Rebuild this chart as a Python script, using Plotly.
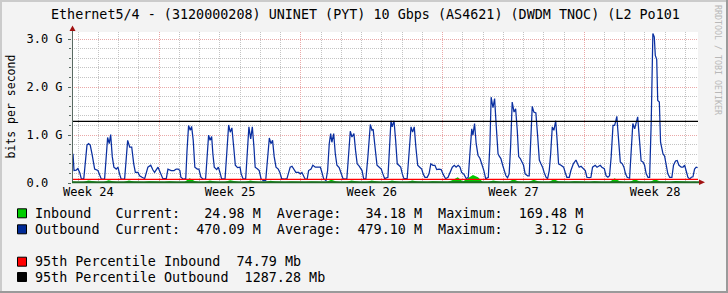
import numpy as np
import plotly.graph_objects as go

# ---------------- data ----------------
TITLE = "Ethernet5/4 - (3120000208) UNINET (PYT) 10 Gbps (AS4621) (DWDM TNOC) (L2 Po101"
Y_LABEL = "bits per second"

week_mid = [3.5, 10.5, 17.5, 24.5, 31.5]          # days
week_labels = ["Week 24", "Week 25", "Week 26", "Week 27", "Week 28"]
x_start, x_end = 2.69, 33.62                      # days shown
y_max = 3.15                                      # Gbit/s

y_tickvals = [0, 1, 2, 3]
y_ticktext = ["0.0\u00a0\u00a0", "1.0 G", "2.0 G", "3.0 G"]

# outbound (Gbit/s) at time (days)
out_t = [2.74, 2.79, 2.90, 2.98, 3.07, 3.15, 3.27, 3.34, 3.43, 3.51, 3.59, 3.68, 3.76, 3.81, 3.97, 4.06,
         4.14, 4.30, 4.37, 4.45, 4.53, 4.60, 4.68, 4.76, 4.88, 4.96, 5.04, 5.12, 5.29, 5.36, 5.44, 5.54,
         5.64, 5.74, 5.82, 5.95, 6.03, 6.15, 6.28, 6.44, 6.58, 6.69, 6.77, 6.94, 7.07, 7.18, 7.35, 7.43,
         7.59, 7.73, 7.84,
         7.94, 8.02, 8.07, 8.19, 8.31, 8.37, 8.45, 8.53, 8.60, 8.68, 8.76, 8.88, 8.96, 9.06, 9.17, 9.29,
         9.36, 9.44, 9.51, 9.59, 9.65, 9.72, 9.84, 9.92, 10.00, 10.08, 10.25, 10.33, 10.43, 10.51, 10.59,
         10.68, 10.76, 10.87, 10.99, 11.05, 11.14, 11.27, 11.35, 11.43, 11.52, 11.60, 11.68, 11.74, 11.86,
         11.94, 12.03, 12.14, 12.26, 12.34, 12.44, 12.52, 12.60, 12.68, 12.77, 12.88, 12.96, 13.05, 13.18,
         13.31, 13.39, 13.47, 13.56, 13.66, 13.75, 13.89, 13.97, 14.05, 14.14, 14.21, 14.31, 14.38, 14.50,
         14.59, 14.71, 14.84, 14.96, 15.04, 15.12, 15.24, 15.32, 15.40, 15.47, 15.53, 15.62, 15.70, 15.78,
         15.89, 15.99, 16.08, 16.19, 16.27, 16.36, 16.44, 16.52, 16.62, 16.70, 16.78, 16.88, 17.02, 17.10,
         17.21, 17.31, 17.38, 17.43, 17.51, 17.57, 17.67, 17.76, 17.87, 17.97, 18.05, 18.14, 18.30, 18.38,
         18.45,
         18.51, 18.60, 18.68, 18.76, 18.84, 18.93, 19.01, 19.09, 19.25, 19.34, 19.44, 19.52, 19.60, 19.68,
         19.77, 19.87, 19.97, 20.04, 20.13, 20.24, 20.33, 20.42, 20.52, 20.62, 20.71, 20.82, 20.93, 21.03,
         21.15, 21.27, 21.36, 21.48, 21.58, 21.67, 21.77, 21.86, 21.94, 22.06, 22.17, 22.27, 22.35, 22.44,
         22.50, 22.58, 22.66, 22.75, 22.85, 22.96, 23.04, 23.13, 23.26, 23.34, 23.40, 23.49, 23.57, 23.65,
         23.74,
         23.80, 23.88, 23.97, 24.05, 24.13, 24.21, 24.29, 24.36, 24.44, 24.53, 24.61, 24.69, 24.76, 24.84,
         24.92, 25.00, 25.08, 25.20, 25.28, 25.35, 25.43, 25.51, 25.61, 25.70, 25.78, 25.86, 25.94, 26.02,
         26.11, 26.19, 26.27, 26.34, 26.42, 26.50, 26.59, 26.66, 26.73, 26.85, 26.98, 27.06, 27.14, 27.26,
         27.34, 27.46, 27.59, 27.67, 27.75, 27.84, 27.95, 28.05, 28.13, 28.25, 28.33, 28.41, 28.54, 28.63,
         28.71, 28.79, 28.87, 28.99,
         29.08, 29.17, 29.25, 29.33, 29.42, 29.50, 29.55, 29.61, 29.66, 29.71, 29.78, 29.88, 29.96, 30.04,
         30.12, 30.24, 30.32, 30.40, 30.49, 30.57, 30.64, 30.70, 30.75, 30.81, 30.90, 30.98, 31.06, 31.15,
         31.23, 31.31, 31.39, 31.46, 31.51, 31.58, 31.63, 31.71, 31.77, 31.89, 31.97, 32.05, 32.13, 32.22,
         32.33, 32.41, 32.51, 32.59, 32.68, 32.79, 32.88, 32.96, 33.04, 33.12, 33.21, 33.29, 33.37, 33.45,
         33.53, 33.60]
out_v = [0.61, 0.26, 0.27, 0.30, 0.22, 0.09, 0.08, 0.37, 0.79, 0.82, 0.79, 0.60, 0.40, 0.29, 0.26, 0.15,
         0.08, 0.08, 0.55, 0.95, 0.82, 1.01, 0.55, 0.33, 0.29, 0.33, 0.19, 0.08, 0.08, 0.48, 0.89, 0.75,
         0.75, 0.40, 0.22, 0.22, 0.15, 0.12, 0.09, 0.33, 0.37, 0.27, 0.22, 0.33, 0.19, 0.09, 0.09, 0.29,
         0.26, 0.26, 0.29,
         0.29, 0.26, 0.12, 0.08, 0.09, 0.65, 1.20, 1.10, 1.18, 0.89, 0.33, 0.29, 0.29, 0.12, 0.08, 0.08,
         0.55, 1.00, 0.89, 0.97, 0.61, 0.33, 0.28, 0.33, 0.22, 0.09, 0.08, 0.61, 1.21, 1.06, 1.15,
         0.75, 0.37, 0.32, 0.33, 0.19, 0.09, 0.08, 0.68, 1.17, 0.92, 1.17, 0.75, 0.33, 0.29,
         0.26, 0.09, 0.05, 0.05, 0.40, 0.94, 0.82, 0.89, 0.55, 0.33, 0.29, 0.22, 0.09, 0.08,
         0.09, 0.22, 0.33, 0.35, 0.29, 0.22, 0.22, 0.19, 0.22, 0.12, 0.08, 0.08, 0.26, 0.29,
         0.37, 0.33, 0.33, 0.33, 0.22, 0.09, 0.05, 0.26, 0.82, 1.03, 0.85, 1.03, 0.61, 0.37,
         0.32, 0.22, 0.09, 0.08, 0.09, 0.61, 1.08, 0.96, 1.03, 0.68, 0.40, 0.35, 0.26, 0.09,
         0.08, 0.55, 0.90, 1.22, 1.10, 1.12, 0.72, 0.37, 0.33, 0.29, 0.19, 0.09, 0.12, 0.89,
         1.30,
         1.17, 1.30, 0.89, 0.40, 0.37, 0.33, 0.19, 0.09, 0.09, 0.61, 1.17, 1.06, 1.17, 0.75,
         0.37, 0.33, 0.29, 0.19, 0.12, 0.12, 0.19, 0.40, 0.37, 0.37, 0.28, 0.29, 0.28, 0.18,
         0.09, 0.12, 0.22, 0.33, 0.37, 0.33, 0.37, 0.33, 0.22, 0.18, 0.09, 0.12, 0.61, 1.13,
         1.00, 1.24, 0.82, 0.58, 0.51, 0.37, 0.26, 0.09, 0.12, 0.82, 1.79, 1.57, 1.76, 1.20,
         0.61,
         0.56, 0.51, 0.37, 0.26, 0.15, 0.11, 0.19, 0.75, 1.69, 1.48, 1.55, 1.10, 0.55, 0.51,
         0.44, 0.37, 0.19, 0.15, 0.15, 0.75, 1.60, 1.48, 1.46, 0.96, 0.48, 0.40, 0.33, 0.22,
         0.12, 0.09, 0.26, 0.61, 1.17, 1.10, 1.30, 0.89, 0.40, 0.37, 0.33, 0.22, 0.12, 0.12,
         0.26, 0.40, 0.48, 0.40, 0.33, 0.35, 0.29, 0.26, 0.12, 0.11, 0.12, 0.33, 0.37, 0.33,
         0.35, 0.37, 0.33, 0.30,
         0.15, 0.12, 0.15, 0.55, 1.20, 1.20, 1.28, 1.39, 1.10, 0.75, 0.44, 0.40, 0.33, 0.19,
         0.12, 0.10, 0.58, 1.24, 1.13, 1.25, 1.38, 1.05, 0.75, 0.46, 0.44, 0.37, 0.19, 0.12,
         0.12, 1.30, 3.12, 3.05, 2.66, 2.58, 1.72, 1.69, 0.85, 0.61, 0.56, 0.40, 0.19, 0.12,
         0.12, 0.37, 0.46, 0.47, 0.37, 0.33, 0.33, 0.37, 0.26, 0.12, 0.08, 0.12, 0.13, 0.29,
         0.33, 0.32]

# inbound (Gbit/s), sampled every 6 h from day 2.75 to day 33.5
in_t0, in_step = 2.75, 0.25
in_v = [0.030,
        0.018, 0.022, 0.050, 0.035,  0.018, 0.022, 0.055, 0.030,  0.018, 0.022, 0.050, 0.030,
        0.018, 0.020, 0.035, 0.030,  0.018, 0.020, 0.035, 0.025,  0.018, 0.022, 0.100, 0.040,
        0.018, 0.022, 0.050, 0.030,  0.018, 0.022, 0.055, 0.035,  0.018, 0.022, 0.050, 0.030,
        0.018, 0.022, 0.045, 0.030,  0.018, 0.020, 0.030, 0.025,  0.018, 0.020, 0.030, 0.025,
        0.018, 0.022, 0.070, 0.030,  0.018, 0.022, 0.050, 0.035,  0.018, 0.022, 0.050, 0.030,
        0.018, 0.022, 0.050, 0.030,  0.018, 0.022, 0.050, 0.030,  0.018, 0.020, 0.035, 0.030,
        0.018, 0.022, 0.060, 0.120,  0.030, 0.100, 0.169, 0.120,  0.018, 0.022, 0.050, 0.030,
        0.018, 0.022, 0.077, 0.030,  0.018, 0.022, 0.070, 0.030,  0.018, 0.022, 0.080, 0.030,
        0.018, 0.020, 0.035, 0.030,  0.018, 0.020, 0.035, 0.025,  0.018, 0.022, 0.100, 0.035,
        0.018, 0.022, 0.080, 0.030,  0.018, 0.022, 0.080, 0.030,  0.018, 0.020, 0.040, 0.030,
        0.018, 0.020, 0.025]
in_t = in_t0 + in_step * np.arange(len(in_v))

p95_in_mb = 74.79
p95_out_mb = 1287.28

legend_rows = [
    ("#00CC00", "Inbound   Current:   24.98 M  Average:   34.18 M  Maximum:  169.48 M"),
    ("#002A97", "Outbound  Current:  470.09 M  Average:  479.10 M  Maximum:    3.12 G"),
    ("#FF0000", "95th Percentile Inbound  74.79 Mb"),
    ("#000000", "95th Percentile Outbound  1287.28 Mb"),
]

# ---------------- layout helpers ----------------
W, H = 728, 293
L, R, T, B = 72, 30, 32, 110
PW, PH = W - L - R, H - T - B
MONO = "DejaVu Sans Mono"
AXIS = "#5A6A62"


def px(x):
    return (x - L) / PW


def py(y):
    return (H - B - y) / PH


fig = go.Figure()
fig.add_trace(go.Scatter(x=in_t, y=in_v, mode="lines", fill="tozeroy",
                         line=dict(width=0, color="#00CC00"), fillcolor="#00CC00",
                         hoverinfo="skip", showlegend=False))
fig.add_trace(go.Scatter(x=out_t, y=out_v, mode="lines",
                         line=dict(width=1.25, color="#0A2FA0"),
                         hoverinfo="skip", showlegend=False))
fig.add_trace(go.Scatter(x=week_mid, y=[None] * len(week_mid), xaxis="x2",
                         mode="markers", showlegend=False, hoverinfo="skip"))

shapes = []
for val, col in ((p95_in_mb, "#FF0000"), (p95_out_mb, "#000000")):
    shapes.append(dict(type="line", xref="paper", yref="y", x0=0, x1=1,
                       y0=val / 1000, y1=val / 1000, line=dict(color=col, width=1.2)))

# axes lines with arrows
shapes.append(dict(type="line", xref="paper", yref="paper", x0=px(72.5), x1=px(72.5),
                   y0=py(183), y1=py(29), line=dict(color=AXIS, width=1)))
shapes.append(dict(type="line", xref="paper", yref="paper", x0=px(72), x1=px(701),
                   y0=py(182.2), y1=py(182.2), line=dict(color="#1F6A25", width=2)))
shapes.append(dict(type="path", xref="paper", yref="paper",
                   path=f"M {px(69.5)} {py(31)} L {px(75.5)} {py(31)} L {px(72.5)} {py(25.5)} Z",
                   fillcolor="#A01010", line=dict(width=0)))
shapes.append(dict(type="path", xref="paper", yref="paper",
                   path=f"M {px(699)} {py(179.5)} L {px(699)} {py(185)} L {px(705)} {py(182.2)} Z",
                   fillcolor="#A01010", line=dict(width=0)))

# frame shading
for (x0, y0, x1, y1, c) in [(0, 0, 2, H, "#CBCBCB"), (0, 0, W, 2, "#CBCBCB"),
                            (W - 2, 0, W, H, "#9A9A9A"), (0, H - 2, W, H, "#9A9A9A")]:
    shapes.append(dict(type="rect", xref="paper", yref="paper", x0=px(x0), x1=px(x1),
                       y0=py(y1), y1=py(y0), fillcolor=c, line=dict(width=0), layer="above"))

annotations = [
    dict(text=TITLE, xref="paper", yref="paper", x=px(365), y=py(14), xanchor="center",
         yanchor="middle", showarrow=False, font=dict(family=MONO, size=13.4, color="#000000")),
    dict(text=Y_LABEL, xref="paper", yref="paper", x=px(10.5), y=py(107), textangle=-90,
         xanchor="center", yanchor="middle", showarrow=False,
         font=dict(family=MONO, size=11.5, color="#000000")),
    dict(text="RRDTOOL / TOBI OETIKER", xref="paper", yref="paper", x=px(718), y=py(60),
         textangle=90, xanchor="center", yanchor="middle", showarrow=False,
         font=dict(family=MONO, size=8.3, color="#B8B8B8")),
]

row_y = [213.3, 229.3, 261.7, 277.0]
for (col, txt), ry in zip(legend_rows, row_y):
    shapes.append(dict(type="rect", xref="paper", yref="paper", x0=px(17.5), x1=px(26.5),
                       y0=py(ry + 4.5), y1=py(ry - 4.5), fillcolor=col,
                       line=dict(color="#000000", width=1)))
    annotations.append(dict(text=txt.replace(" ", "\u00a0"), xref="paper", yref="paper",
                            x=px(33.3), y=py(ry), xanchor="left", yanchor="middle",
                            showarrow=False,
                            font=dict(family=MONO, size=13.4, color="#000000")))

fig.update_layout(
    width=W, height=H, margin=dict(l=L, r=R, t=T, b=B, pad=0),
    paper_bgcolor="#F3F3F3", plot_bgcolor="#FFFFFF",
    showlegend=False,
    xaxis=dict(range=[x_start, x_end], showticklabels=False, tick0=0, dtick=7,
               showgrid=True, gridcolor="#EAA8A8", griddash="1px,1px", gridwidth=1,
               zeroline=False, showline=False, ticks="",
               minor=dict(tick0=0, dtick=1, showgrid=True, gridcolor="#C4C4C4",
                          griddash="1px,1px", gridwidth=1)),
    xaxis2=dict(overlaying="x", anchor="y", side="bottom", range=[x_start, x_end],
                tickmode="array", tickvals=week_mid, ticktext=week_labels,
                showgrid=False, zeroline=False, showline=False, ticks="",
                tickfont=dict(family=MONO, size=12, color="#000000")),
    yaxis=dict(range=[0, y_max], tickmode="array", tickvals=y_tickvals, ticktext=y_ticktext,
               showgrid=True, gridcolor="#EAA8A8", griddash="1px,1px", gridwidth=1,
               zeroline=False, showline=False, ticks="outside", ticklen=3, tickcolor=AXIS,
               ticklabelstandoff=3,
               tickfont=dict(family=MONO, size=12, color="#000000"),
               minor=dict(tick0=0, dtick=0.2, showgrid=True, gridcolor="#C4C4C4",
                          griddash="1px,1px", gridwidth=1, ticks="outside", ticklen=2,
                          tickcolor=AXIS)),
    shapes=shapes,
    annotations=annotations,
)

fig.write_html("out.html")
